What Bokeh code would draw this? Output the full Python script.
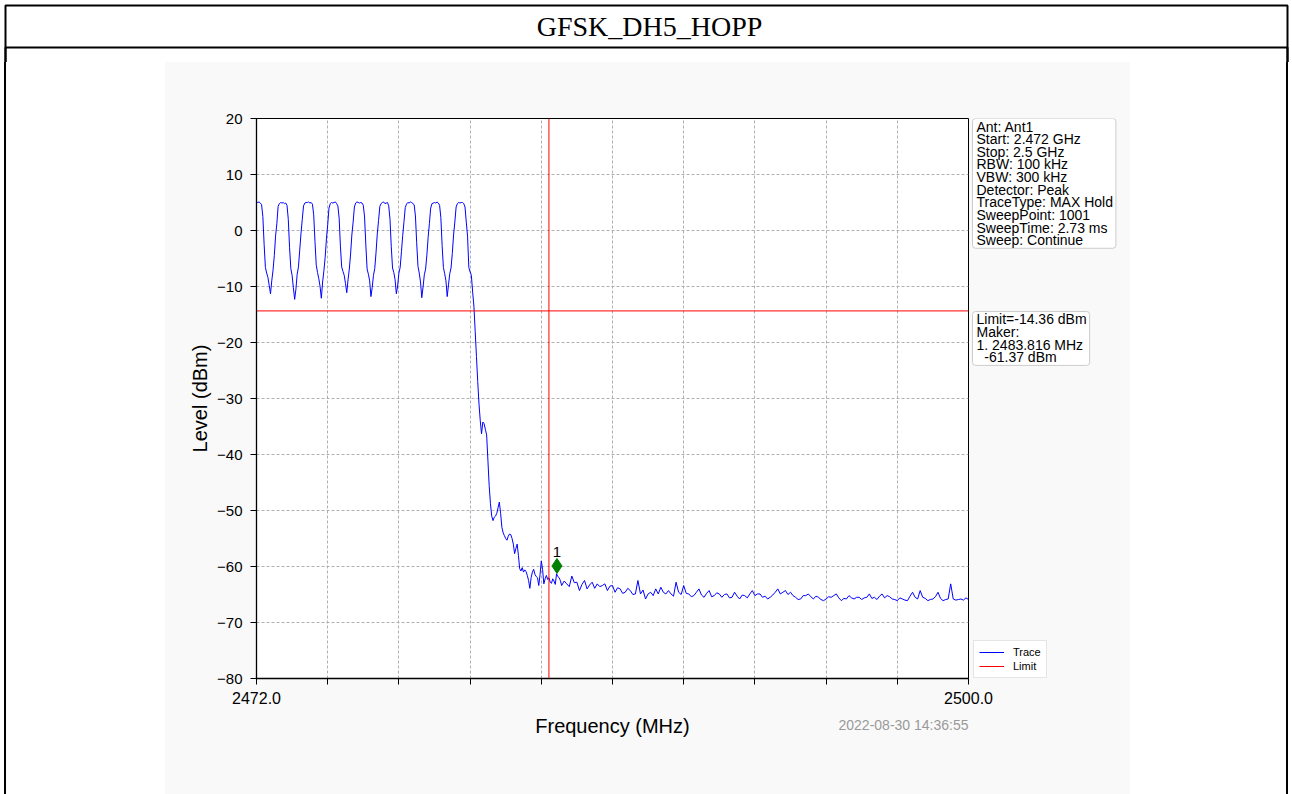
from bokeh.plotting import figure
from bokeh.models import (Range1d, Span, Label, Legend, LegendItem, FixedTicker,
                          PrintfTickFormatter, Title, Div, BoxAnnotation)
from bokeh.layouts import column, row
from bokeh.embed import file_html
from bokeh.resources import INLINE

# ---------------- data ----------------
title_text = "GFSK_DH5_HOPP"
start_mhz = 2472.0
stop_mhz = 2500.0

# 2472.00 .. 2483.95 MHz in 0.05 MHz steps, one row per MHz
fine_rows = [
    [5.1, 5.0, 5.1, 4.9, 4.6, 2.5, -2.5, -6.6, -7.6, -8.4, -9.8, -11.3, -9.0, -7.1, -4.5, -1.0, 1.2, 4.3, 4.8, 5.0],   # 2472
    [4.9, 5.0, 4.8, 4.9, 4.5, 2.0, -3.0, -6.8, -8.0, -10.2, -12.3, -10.5, -7.8, -6.5, -3.5, -0.5, 2.0, 4.4, 4.9, 5.0], # 2473
    [5.0, 5.1, 4.9, 5.0, 4.7, 2.8, -2.0, -6.2, -7.5, -8.6, -10.0, -12.1, -9.2, -7.2, -4.8, -1.5, 1.0, 4.0, 4.8, 5.0],  # 2474
    [4.9, 5.0, 5.1, 4.8, 4.4, 2.2, -2.8, -6.5, -7.3, -8.0, -9.5, -11.1, -8.8, -6.9, -4.2, -0.8, 1.5, 4.2, 4.9, 5.1],   # 2475
    [5.0, 4.9, 5.0, 4.9, 4.5, 2.4, -2.6, -6.9, -7.8, -9.0, -11.8, -10.2, -8.0, -6.8, -4.0, -0.6, 1.8, 4.3, 4.8, 5.0],  # 2476
    [5.1, 4.8, 4.9, 5.0, 4.4, 2.0, -2.9, -6.7, -7.5, -8.8, -11.3, -9.9, -7.6, -6.6, -3.8, -0.9, 1.6, 4.1, 4.7, 5.0],   # 2477
    [4.9, 5.1, 5.0, 4.8, 4.6, 2.6, -2.2, -6.4, -7.6, -9.2, -12.0, -10.1, -7.9, -6.9, -4.4, -1.2, 1.3, 4.0, 4.8, 4.9],  # 2478
    [5.0, 4.9, 5.1, 4.9, 4.5, 2.3, -2.7, -6.6, -7.7, -9.0, -11.8, -9.7, -7.7, -6.7, -4.1, -0.8, 1.5, 4.2, 4.8, 5.0],   # 2479
    [4.9, 5.0, 5.0, 4.8, 4.2, 1.5, -1.0, -6.6, -7.4, -8.0, -11.0, -13.5, -18.0, -22.5, -27.0, -31.0, -34.0, -36.3, -34.2, -34.5],  # 2480
    [-35.5, -36.5, -41.0, -45.5, -48.8, -51.0, -51.8, -51.2, -51.0, -50.5, -49.5, -48.5, -50.5, -53.0, -54.0, -54.5, -55.0, -55.3, -54.6, -54.2],  # 2481
    [-54.3, -55.0, -56.0, -57.7, -56.8, -56.0, -58.0, -60.4, -60.8, -60.2, -61.0, -60.6, -60.9, -61.6, -62.5, -63.9, -62.0, -61.0, -60.5, -61.4],  # 2482
    [-61.8, -62.0, -63.4, -61.5, -59.0, -60.5, -63.1, -62.2, -61.6, -62.3, -62.0, -62.8, -63.0, -62.2, -62.6, -63.2, -61.3, -61.8, -62.0, -62.5],  # 2483
]
# 2484.0 .. 2500.0 MHz in 0.1 MHz steps, one row per MHz
coarse_rows = [
    [-63.4, -62.6, -63.1, -63.6, -61.7, -62.9, -62.8, -64.3, -63.2, -62.5],  # 2484
    [-64.0, -63.3, -62.8, -63.9, -63.1, -63.6, -63.4, -63.1, -64.3, -63.5],  # 2485
    [-63.4, -64.6, -63.8, -64.0, -64.8, -64.6, -63.9, -64.3, -65.0, -64.9],  # 2486
    [-62.5, -64.9, -64.2, -65.8, -64.9, -64.6, -65.2, -64.0, -64.9, -63.7],  # 2487
    [-64.6, -64.9, -64.3, -64.9, -65.3, -62.8, -64.6, -65.0, -63.4, -64.8],  # 2488
    [-64.9, -65.4, -65.2, -64.6, -64.0, -65.1, -65.5, -64.8, -64.3, -65.4],  # 2489
    [-65.2, -64.7, -64.9, -65.5, -65.0, -64.9, -65.6, -65.5, -64.6, -65.3],  # 2490
    [-65.8, -65.1, -65.2, -65.6, -64.9, -64.3, -65.2, -64.9, -64.9, -65.5],  # 2491
    [-65.3, -65.8, -65.5, -65.1, -64.6, -64.0, -64.9, -64.6, -64.3, -65.0],  # 2492
    [-64.6, -65.2, -65.5, -65.9, -65.8, -65.2, -65.2, -64.9, -65.4, -65.8],  # 2493
    [-65.3, -65.5, -65.9, -66.1, -65.8, -65.4, -65.5, -65.2, -64.9, -65.6],  # 2494
    [-66.1, -65.7, -65.8, -65.2, -65.6, -65.8, -65.5, -65.5, -65.9, -65.6],  # 2495
    [-65.5, -64.9, -65.7, -65.5, -65.9, -65.3, -64.9, -65.6, -65.2, -65.4],  # 2496
    [-65.8, -65.9, -66.1, -65.6, -65.8, -66.0, -66.1, -65.3, -64.6, -65.5],  # 2497
    [-65.8, -64.3, -65.5, -65.7, -66.1, -65.9, -65.8, -65.4, -64.6, -65.7],  # 2498
    [-66.1, -65.9, -65.8, -63.1, -65.8, -66.0, -65.9, -65.8, -66.0, -65.6],  # 2499
    [-65.9],                                                                 # 2500
]
fine_level = [v for r in fine_rows for v in r]
coarse_level = [v for r in coarse_rows for v in r]
level_dbm = fine_level + coarse_level
freq_mhz = ([round(start_mhz + 0.05 * i, 2) for i in range(len(fine_level))] +
            [round(2484.0 + 0.1 * i, 1) for i in range(len(coarse_level))])

limit_dbm = -14.36
band_edge_mhz = 2483.5
marker_freq = [2483.816]
marker_plot_level = [-59.9]
marker_name = "1"

y_ticks = [-80, -70, -60, -50, -40, -30, -20, -10, 0, 10, 20]
x_major_ticks = [2472.0, 2500.0]
x_minor_ticks = [2474.8, 2477.6, 2480.4, 2483.2, 2486.0, 2488.8, 2491.6, 2494.4, 2497.2]

info_lines = ["Ant: Ant1", "Start: 2.472 GHz", "Stop: 2.5 GHz", "RBW: 100 kHz",
              "VBW: 300 kHz", "Detector: Peak", "TraceType: MAX Hold",
              "SweepPoint: 1001", "SweepTime: 2.73 ms", "Sweep: Continue"]
limit_lines = ["Limit=-14.36 dBm", "Maker:", "1. 2483.816 MHz", "\u00a0\u00a0-61.37 dBm"]
timestamp = "2022-08-30 14:36:55"

FONT = "Liberation Sans"
GRID = "#b0b0b0"
BG = "#f9f9f9"
BODY_H = 732

# ---------------- header ----------------
hdr = figure(width=1292, height=62, x_range=Range1d(0, 1292), y_range=Range1d(0, 62),
             output_backend="svg", toolbar_location=None, title=None, min_border=0)
hdr.axis.visible = False
hdr.grid.visible = False
hdr.outline_line_color = None
hdr.background_fill_color = "white"
hdr.border_fill_color = "white"
for top in (57, 15):
    hdr.add_layout(BoxAnnotation(left=5, right=1287, top=top, bottom=-20, fill_color=None,
                                 line_color="black", line_alpha=1.0, line_width=2))
hdr.add_layout(Label(x=649, y=36, text=title_text, text_font="Liberation Serif",
                     text_font_size="28px", text_align="center", text_baseline="middle",
                     text_color="black"))

# ---------------- side strips with the table border ----------------
left_sp = Div(text="", width=165, height=BODY_H, margin=0,
              styles={"background": "linear-gradient(to right, white 4px, black 4px, black 6px, white 6px)"})
right_sp = Div(text="", width=162, height=BODY_H, margin=0,
               styles={"background": "linear-gradient(to right, white 156px, black 156px, black 158px, white 158px)"})

# ---------------- chart ----------------
p = figure(width=829, height=BODY_H, x_range=Range1d(start_mhz, stop_mhz),
           y_range=Range1d(-80, 20), output_backend="svg", toolbar_location=None,
           title=None, min_border_left=91, min_border_right=26,
           min_border_top=56, min_border_bottom=116)
p.background_fill_color = "white"
p.border_fill_color = BG
p.outline_line_color = "black"
p.outline_line_width = 1

p.xaxis.ticker = FixedTicker(ticks=x_major_ticks, minor_ticks=x_minor_ticks)
p.xaxis.formatter = PrintfTickFormatter(format="%.1f")
p.yaxis.ticker = FixedTicker(ticks=y_ticks)
p.yaxis.major_label_overrides = {v: str(v).replace("-", "\u2212") for v in y_ticks}

for ax in (p.xaxis[0], p.yaxis[0]):
    ax.axis_line_color = "black"
    ax.axis_line_width = 1.3
    ax.major_tick_line_color = "black"
    ax.major_tick_out = 6
    ax.major_tick_in = 0
    ax.major_label_text_font = FONT
    ax.major_label_text_color = "black"
    ax.axis_label_text_font = FONT
    ax.axis_label_text_font_size = "20px"
    ax.axis_label_text_font_style = "normal"
    ax.axis_label_text_color = "black"
p.xaxis.major_label_text_font_size = "16px"
p.yaxis.major_label_text_font_size = "15px"
p.xaxis.minor_tick_line_color = "black"
p.xaxis.minor_tick_out = 6
p.xaxis.minor_tick_in = 0
p.yaxis.minor_tick_line_color = None
p.xaxis.axis_label = "Frequency (MHz)"
p.yaxis.axis_label = "Level (dBm)"
p.xaxis.major_label_standoff = 7
p.xaxis.axis_label_standoff = 8
p.yaxis.axis_label_standoff = 3
p.yaxis.major_label_standoff = 8

p.xgrid.grid_line_color = GRID
p.xgrid.grid_line_dash = "3 2"
p.xgrid.minor_grid_line_color = GRID
p.xgrid.minor_grid_line_dash = "3 2"
p.ygrid.grid_line_color = GRID
p.ygrid.grid_line_dash = "3 2"

p.line(freq_mhz, level_dbm, line_color="blue", line_width=1)
p.line([start_mhz, stop_mhz], [limit_dbm, limit_dbm], line_color="red", line_width=1)
p.add_layout(Span(location=band_edge_mhz, dimension="height", line_color="red", line_width=1))
p.scatter(marker_freq, marker_plot_level, marker="diamond", size=15,
          fill_color="green", line_color="green")
p.add_layout(Label(x=marker_freq[0], y=marker_plot_level[0], y_offset=9, text=marker_name,
                   text_align="center", text_baseline="bottom", text_font=FONT,
                   text_font_size="15px", text_color="black"))
p.add_layout(Title(text=timestamp, align="right", vertical_align="top", standoff=-46,
                   text_font=FONT, text_font_size="14px", text_font_style="normal",
                   text_color="#999999"), "below")

# ---------------- side panel: info boxes + legend (overlaps chart's right border) ----------------
side = figure(width=161, height=BODY_H, x_range=Range1d(0, 161), y_range=p.y_range,
              output_backend="svg", toolbar_location=None, title=None,
              min_border_left=0, min_border_right=0, min_border_top=56, min_border_bottom=116,
              margin=(0, 0, 0, -25))
side.axis.visible = False
side.grid.visible = False
side.outline_line_color = None
side.background_fill_alpha = 0
side.border_fill_alpha = 0

side_trace = side.line(freq_mhz, level_dbm, line_color="blue", line_width=1)
side_limit = side.line([start_mhz, stop_mhz], [limit_dbm, limit_dbm], line_color="red", line_width=1)

side.add_layout(Label(x=3, y=20, text="\n".join(info_lines),
                      text_align="left", text_baseline="top", text_font=FONT,
                      text_font_size="14px", text_line_height=0.79, text_color="black",
                      background_fill_color="white", border_line_color="#cccccc",
                      padding=(4, 3, 0, 0), border_radius=3))
side.add_layout(Label(x=3, y=-14.46, text="\n".join(limit_lines),
                      text_align="left", text_baseline="top", text_font=FONT,
                      text_font_size="14px", text_line_height=0.79, text_color="black",
                      background_fill_color="white", border_line_color="#cccccc",
                      padding=(4, 3, 0, 0), border_radius=3))

legend = Legend(items=[LegendItem(label="Trace", renderers=[side_trace]),
                       LegendItem(label="Limit", renderers=[side_limit])],
                location=(4, 0), margin=0, padding=5, spacing=2,
                glyph_width=25, glyph_height=12, label_standoff=9,
                label_text_font=FONT, label_text_font_size="11px", label_text_color="black",
                border_line_color="#cccccc", background_fill_color="white")
side.add_layout(legend)

layout = column(hdr, row(left_sp, p, side, right_sp, styles={"background-color": BG}))
open("out.html", "w").write(file_html(layout, INLINE))
